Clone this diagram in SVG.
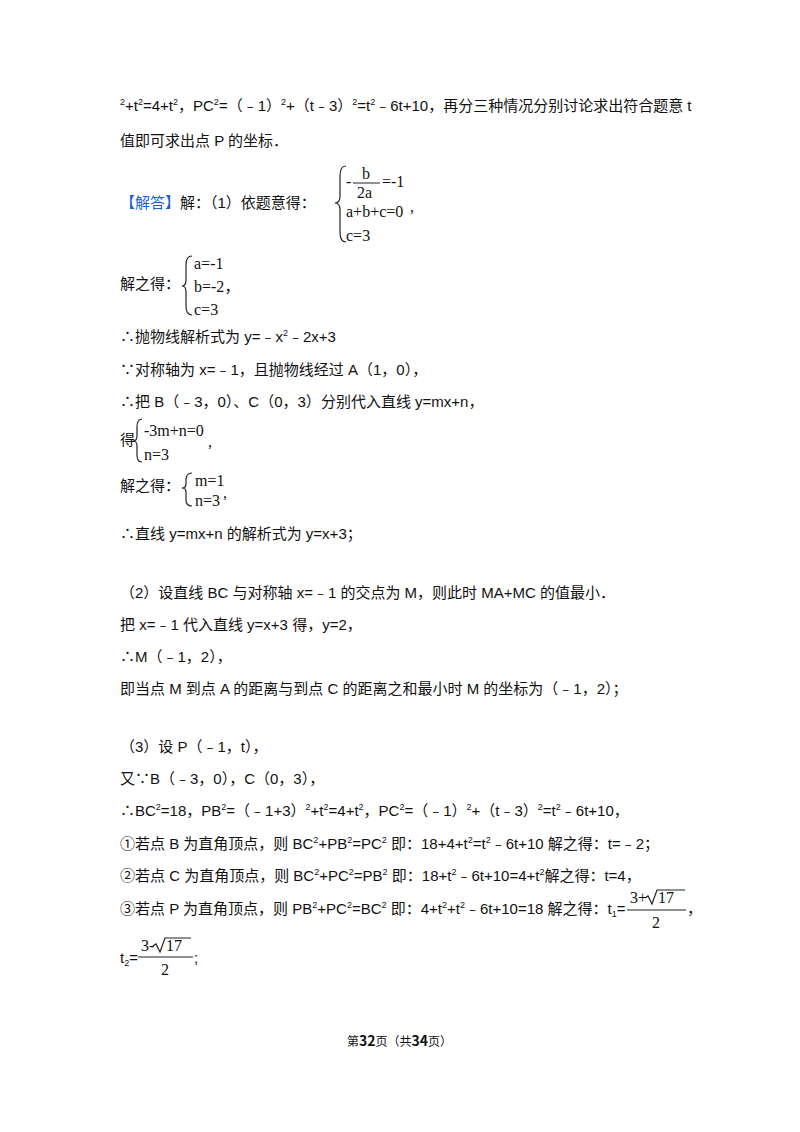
<svg xmlns="http://www.w3.org/2000/svg" width="800" height="1132" viewBox="0 0 800 1132">
<style>
text{font-family:"Liberation Sans","Noto Sans CJK SC",sans-serif;font-size:15px;fill:#111}
.m{font-family:"Liberation Serif","Noto Sans CJK SC",serif;font-size:16px}
.s{font-size:9px}
.b{fill:#1a5fd8}
.br{fill:none;stroke:#222;stroke-width:1.2}
.f{font-family:"Noto Sans CJK SC",sans-serif;font-size:12px}
</style>
<rect width="800" height="1132" fill="#fff"/>
<text x="120" y="111"><tspan class="s" dy="-6">2</tspan><tspan dy="6">+t</tspan><tspan class="s" dy="-6">2</tspan><tspan dy="6">=4+t</tspan><tspan class="s" dy="-6">2</tspan><tspan dy="6">，PC</tspan><tspan class="s" dy="-6">2</tspan><tspan dy="6">=（﹣1）</tspan><tspan class="s" dy="-6">2</tspan><tspan dy="6">+（t﹣3）</tspan><tspan class="s" dy="-6">2</tspan><tspan dy="6">=t</tspan><tspan class="s" dy="-6">2</tspan><tspan dy="6">﹣6t+10，再分三种情况分别讨论求出符合题意 t</tspan></text>
<text x="120" y="146">值即可求出点 P 的坐标．</text>
<g id="sys1">
<text x="120" y="208"><tspan class="b">【解答】</tspan>解：（1）依题意得：</text>
<path class="br" d="M346,166 Q340,166 340,176 L340,196 Q340,203 335,203 Q340,203 340,210 L340,232 Q340,242 346,242"/>
<text class="m" x="346" y="187">-</text>
<text class="m" x="362" y="179">b</text>
<line x1="353" y1="183" x2="380" y2="183" stroke="#222"/>
<text class="m" x="357" y="198">2a</text>
<text class="m" x="382" y="187">=-1</text>
<text class="m" x="346" y="217">a+b+c=0</text>
<text class="m" x="410" y="212">,</text>
<text class="m" x="346" y="241">c=3</text>
</g>
<g id="sys2">
<text x="120" y="289">解之得：</text>
<path class="br" d="M192,256 Q186,256 186,265 L186,280 Q186,286 182,286 Q186,286 186,292 L186,306 Q186,315 192,315"/>
<text class="m" x="194" y="269">a=-1</text>
<text class="m" x="194" y="292">b=-2，</text>
<text class="m" x="194" y="315">c=3</text>
</g>
<text x="120" y="342">∴抛物线解析式为 y=﹣x<tspan class="s" dy="-6">2</tspan><tspan dy="6">﹣2x+3</tspan></text>
<text x="120" y="375">∵对称轴为 x=﹣1，且抛物线经过 A（1，0），</text>
<text x="120" y="407">∴把 B（﹣3，0）、C（0，3）分别代入直线 y=mx+n，</text>
<g id="sys3">
<text x="120" y="445">得</text>
<path class="br" d="M142,419 Q137,419 137,427 L137,436 Q137,441 133,441 Q137,441 137,446 L137,455 Q137,462 142,462"/>
<text class="m" x="144" y="436">-3m+n=0</text>
<text class="m" x="144" y="460">n=3</text>
<text class="m" x="208" y="447">,</text>
</g>
<g id="sys4">
<text x="120" y="491">解之得：</text>
<path class="br" d="M192,473 Q186,473 186,480 L186,484 Q186,488 182,488 Q186,488 186,492 L186,500 Q186,506 192,506"/>
<text class="m" x="195" y="486">m=1</text>
<text class="m" x="195" y="506">n=3</text>
<text class="m" x="223" y="498">,</text>
</g>
<text x="120" y="539">∴直线 y=mx+n 的解析式为 y=x+3；</text>
<text x="120" y="598">（2）设直线 BC 与对称轴 x=﹣1 的交点为 M，则此时 MA+MC 的值最小．</text>
<text x="120" y="630">把 x=﹣1 代入直线 y=x+3 得，y=2，</text>
<text x="120" y="662">∴M（﹣1，2），</text>
<text x="120" y="694">即当点 M 到点 A 的距离与到点 C 的距离之和最小时 M 的坐标为（﹣1，2）；</text>
<text x="120" y="752">（3）设 P（﹣1，t），</text>
<text x="120" y="784">又∵B（﹣3，0），C（0，3），</text>
<text x="120" y="816">∴BC<tspan class="s" dy="-6">2</tspan><tspan dy="6">=18，PB</tspan><tspan class="s" dy="-6">2</tspan><tspan dy="6">=（﹣1+3）</tspan><tspan class="s" dy="-6">2</tspan><tspan dy="6">+t</tspan><tspan class="s" dy="-6">2</tspan><tspan dy="6">=4+t</tspan><tspan class="s" dy="-6">2</tspan><tspan dy="6">，PC</tspan><tspan class="s" dy="-6">2</tspan><tspan dy="6">=（﹣1）</tspan><tspan class="s" dy="-6">2</tspan><tspan dy="6">+（t﹣3）</tspan><tspan class="s" dy="-6">2</tspan><tspan dy="6">=t</tspan><tspan class="s" dy="-6">2</tspan><tspan dy="6">﹣6t+10，</tspan></text>
<text x="120" y="849">①若点 B 为直角顶点，则 BC<tspan class="s" dy="-6">2</tspan><tspan dy="6">+PB</tspan><tspan class="s" dy="-6">2</tspan><tspan dy="6">=PC</tspan><tspan class="s" dy="-6">2</tspan><tspan dy="6"> 即：18+4+t</tspan><tspan class="s" dy="-6">2</tspan><tspan dy="6">=t</tspan><tspan class="s" dy="-6">2</tspan><tspan dy="6">﹣6t+10 解之得：t=﹣2；</tspan></text>
<text x="120" y="881">②若点 C 为直角顶点，则 BC<tspan class="s" dy="-6">2</tspan><tspan dy="6">+PC</tspan><tspan class="s" dy="-6">2</tspan><tspan dy="6">=PB</tspan><tspan class="s" dy="-6">2</tspan><tspan dy="6"> 即：18+t</tspan><tspan class="s" dy="-6">2</tspan><tspan dy="6">﹣6t+10=4+t</tspan><tspan class="s" dy="-6">2</tspan><tspan dy="6">解之得：t=4，</tspan></text>
<text x="120" y="914">③若点 P 为直角顶点，则 PB<tspan class="s" dy="-6">2</tspan><tspan dy="6">+PC</tspan><tspan class="s" dy="-6">2</tspan><tspan dy="6">=BC</tspan><tspan class="s" dy="-6">2</tspan><tspan dy="6"> 即：4+t</tspan><tspan class="s" dy="-6">2</tspan><tspan dy="6">+t</tspan><tspan class="s" dy="-6">2</tspan><tspan dy="6">﹣6t+10=18 解之得：t</tspan><tspan class="s" dy="3">1</tspan><tspan dy="-3">=</tspan></text>
<g id="t1">
<text class="m" x="630" y="903">3+</text>
<path class="br" d="M645,898 L648,896 L652,904 L657,890 L685,890"/>
<text class="m" x="658" y="903">17</text>
<line x1="627" y1="910" x2="686" y2="910" stroke="#222"/>
<text class="m" x="652" y="928">2</text>
<text x="687" y="914">，</text>
</g>
<g id="t2">
<text x="120" y="963">t<tspan class="s" dy="3">2</tspan><tspan dy="-3">=</tspan></text>
<text class="m" x="141" y="951">3-</text>
<path class="br" d="M153,946 L156,944 L160,952 L165,938 L191,938"/>
<text class="m" x="166" y="951">17</text>
<line x1="138" y1="957" x2="193" y2="957" stroke="#222"/>
<text class="m" x="161" y="975">2</text>
<text x="194" y="963">;</text>
</g>
<text class="f" x="347" y="1046">第<tspan font-weight="bold" font-size="14">32</tspan>页（共<tspan font-weight="bold" font-size="14">34</tspan>页）</text>
</svg>
